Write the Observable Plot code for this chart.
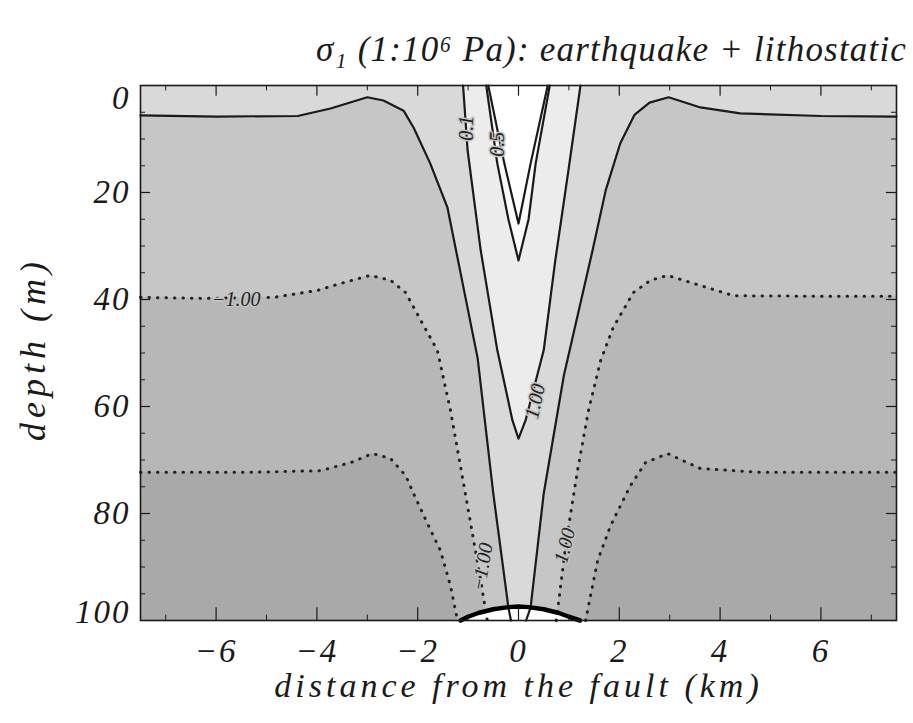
<!DOCTYPE html>
<html>
<head>
<meta charset="utf-8">
<script src="https://cdn.jsdelivr.net/npm/d3@7"></script>
<script src="https://cdn.jsdelivr.net/npm/@observablehq/plot@0.6"></script>
<style>
  html, body { margin: 0; padding: 0; background: #fff; }
  g[font-size="33"] { letter-spacing: 2px; }
  g[font-size="34"] { letter-spacing: 4px; }
  g[font-size="35"] { letter-spacing: 1.2px; }
  g[font-size="36"] { letter-spacing: 5px; }
</style>
</head>
<body>
<div id="chart"></div>
<script>
// ---- values: [distance from fault (km), depth (m)] ----
const solidOuterLeft = [[-7.5,5.6],[-6,5.8],[-4.38,5.7],[-3.73,4.3],[-3.0,2.2],[-2.68,2.8],[-2.28,4.7],[-2.08,7.9],[-1.75,14.6],[-1.41,22.8],[-0.81,51],[-0.5,76.3],[-0.2,97.6],[-0.15,100]];
const solidOuterRight = [[0.15,100],[0.24,97.6],[0.5,76.3],[0.9,54.2],[1.47,30.8],[1.73,19.6],[2.02,10.8],[2.3,5.5],[2.6,3.2],[2.98,2.2],[3.61,4.1],[4.4,5.2],[6,5.7],[7.5,5.8]];
const solidV3 = [[-1.1,0],[-1.01,12.1],[-0.75,30.8],[-0.42,49.5],[-0.12,62.6],[0,66],[0.14,62.6],[0.5,49.5],[0.73,32.7],[0.99,15.9],[1.23,0]];
const solidV2 = [[-0.64,0],[-0.42,14.6],[-0.2,25],[0,32.7],[0.2,25],[0.34,14.6],[0.62,0]];
const solidV1 = [[-0.6,0],[-0.28,14.6],[0,25.8],[0.24,14.6],[0.58,0]];
const dottedUpperLeft = [[-7.5,39.6],[-6.25,39.8],[-4.86,39.6],[-3.99,38.3],[-3.53,37],[-2.94,35.5],[-2.54,36.4],[-2.24,38.7],[-1.88,44.9],[-1.61,49.5],[-1.35,60.7],[-1.09,74.4],[-0.89,85],[-0.75,92.5],[-0.62,100]];
const dottedUpperRight = [[0.75,100],[0.95,85],[1.17,72],[1.39,60.7],[1.63,51.4],[1.88,45.2],[2.28,38.7],[2.62,36.4],[2.96,35.5],[3.61,37.4],[4.27,39.3],[6,39.4],[7.5,39.4]];
const dottedLowerLeft = [[-7.5,72.3],[-5.32,72.3],[-3.93,72],[-3.33,70.5],[-2.9,68.8],[-2.54,69.7],[-2.24,72.9],[-2.08,76.3],[-1.79,82.2],[-1.55,86.9],[-1.35,93.5],[-1.21,100]];
const dottedLowerRight = [[1.33,100],[1.57,88.8],[1.83,82.2],[2.22,74.8],[2.52,70.5],[2.96,68.8],[3.61,71.6],[4.8,72.3],[7.5,72.3]];
const bottomArc = [[-1.15,100],[-1.0,99.3],[-0.8,98.6],[-0.5,97.9],[-0.2,97.5],[0,97.4],[0.2,97.5],[0.5,97.9],[0.8,98.6],[1.0,99.3],[1.22,100]];

// contour labels: [x, depth, text, rotation]
const contourLabels = [
  [-5.6, 40, "\u22121.00", 0],
  [-1.03, 8, "0.1", -90],
  [-0.42, 11, "0.5", -90],
  [0.33, 59, "1.00", -78],
  [0.92, 86, "1.00", -76],
  [-0.72, 90, "\u22121.00", -80]
];

// axes
const xTickValues = [-6, -4, -2, 0, 2, 4, 6];
const xTickLabels = ["\u22126", "\u22124", "\u22122", "0", "2", "4", "6"];
const yTickValues = [20, 40, 60, 80];
const yTickLabels = ["20", "40", "60", "80"];
const yMinorTicks = [5, 10, 15, 25, 30, 35, 45, 50, 55, 65, 70, 75, 85, 90, 95];
const xMinorTicks = [-7, -5, -3, -1, 1, 3, 5, 7];

const titleText = "\u03c3\u2081 (1:10\u2076 Pa): earthquake + lithostatic";
const xLabel = "distance from the fault (km)";
const yLabel = "depth (m)";

// ---- styles ----
const cTop = "#d9d9d9", cBand1 = "#c6c6c6", cBand2 = "#b7b7b7", cBand3 = "#a9a9a9";
const cV3 = "#ececec", cV2 = "#fbfbfb", cV1 = "#ffffff";
const ink = "#1a1a1a";
const font = '"Liberation Serif", "DejaVu Serif", serif';

const X = d => d[0], D = d => d[1];
const atBottom = () => 100, atSurface = () => 0;

const solidLine = (data) => Plot.line(data, {x: X, y: D, stroke: ink, strokeWidth: 2.2});
const dottedLine = (data) => Plot.line(data, {x: X, y: D, stroke: "#222", strokeWidth: 3, strokeDasharray: "0.5,8", strokeLinecap: "round"});

const chart = Plot.plot({
  width: 913,
  height: 723,
  marginTop: 85,
  marginBottom: 103,
  marginLeft: 140,
  marginRight: 17,
  x: {domain: [-7.5, 7.5], axis: null},
  y: {domain: [0, 100], reverse: true, axis: null},
  style: {fontFamily: font, fontStyle: "italic", background: "white", color: ink},
  marks: [
    Plot.frame({fill: cTop}),
    Plot.areaY(solidOuterLeft, {x: X, y1: D, y2: atBottom, fill: cBand1}),
    Plot.areaY(solidOuterRight, {x: X, y1: D, y2: atBottom, fill: cBand1}),
    Plot.areaY(dottedUpperLeft, {x: X, y1: D, y2: atBottom, fill: cBand2}),
    Plot.areaY(dottedUpperRight, {x: X, y1: D, y2: atBottom, fill: cBand2}),
    Plot.areaY(dottedLowerLeft, {x: X, y1: D, y2: atBottom, fill: cBand3}),
    Plot.areaY(dottedLowerRight, {x: X, y1: D, y2: atBottom, fill: cBand3}),
    Plot.areaY(solidV3, {x: X, y1: atSurface, y2: D, fill: cV3}),
    Plot.areaY(solidV2, {x: X, y1: atSurface, y2: D, fill: cV2}),
    Plot.areaY(solidV1, {x: X, y1: atSurface, y2: D, fill: cV1}),
    Plot.areaY(bottomArc, {x: X, y1: D, y2: atBottom, fill: "white"}),

    solidLine(solidOuterLeft),
    solidLine(solidOuterRight),
    solidLine(solidV3),
    solidLine(solidV2),
    solidLine(solidV1),
    dottedLine(dottedUpperLeft),
    dottedLine(dottedUpperRight),
    dottedLine(dottedLowerLeft),
    dottedLine(dottedLowerRight),
    Plot.line(bottomArc, {x: X, y: D, stroke: "#000", strokeWidth: 4.5}),

    Plot.text(contourLabels, {x: X, y: D, text: d => d[2], rotate: d => d[3], fontSize: 20, fill: "#222", stroke: "#c4c4c4", strokeWidth: 3, paintOrder: "stroke"}),

    // inward ticks
    Plot.ruleX(xTickValues, {x: d => d, y1: 0, y2: 2, stroke: ink, strokeWidth: 1.2}),
    Plot.ruleX(xTickValues, {x: d => d, y1: 97.6, y2: 100, stroke: ink, strokeWidth: 1.2}),
    Plot.ruleX(xMinorTicks, {x: d => d, y1: 0, y2: 1, stroke: ink, strokeWidth: 1}),
    Plot.ruleX(xMinorTicks, {x: d => d, y1: 99, y2: 100, stroke: ink, strokeWidth: 1}),
    Plot.ruleY(yTickValues, {y: d => d, x1: -7.5, x2: -7.3, stroke: ink, strokeWidth: 1.2}),
    Plot.ruleY(yTickValues, {y: d => d, x1: 7.3, x2: 7.5, stroke: ink, strokeWidth: 1.2}),
    Plot.ruleY(yMinorTicks, {y: d => d, x1: -7.5, x2: -7.4, stroke: ink, strokeWidth: 1}),
    Plot.ruleY(yMinorTicks, {y: d => d, x1: 7.4, x2: 7.5, stroke: ink, strokeWidth: 1}),
    Plot.frame({stroke: ink, strokeWidth: 1.6}),

    // tick labels
    Plot.text(xTickValues, {x: d => d, text: (d, i) => xTickLabels[i], frameAnchor: "bottom", dy: 41, fontSize: 33, fill: ink}),
    Plot.text(yTickValues, {y: d => d, text: (d, i) => yTickLabels[i], frameAnchor: "left", textAnchor: "end", dx: -10, fontSize: 33, fill: ink}),
    Plot.text(["0"], {y: () => 0, text: d => d, frameAnchor: "left", textAnchor: "end", dx: -10, dy: 13, fontSize: 33, fill: ink}),
    Plot.text(["100"], {y: () => 100, text: d => d, frameAnchor: "left", textAnchor: "end", dx: -10, dy: -8, fontSize: 33, fill: ink}),

    // axis titles and chart title
    Plot.text([xLabel], {text: d => d, frameAnchor: "bottom", dy: 76, fontSize: 34, fill: ink}),
    Plot.text([yLabel], {text: d => d, frameAnchor: "left", textAnchor: "middle", dx: -107, dy: -4, rotate: -90, fontSize: 36, fill: ink}),
    Plot.text([titleText], {text: d => d, frameAnchor: "top", dx: 93, dy: -49, fontSize: 35, fill: ink})
  ]
});

document.getElementById("chart").appendChild(chart);
</script>
</body>
</html>
